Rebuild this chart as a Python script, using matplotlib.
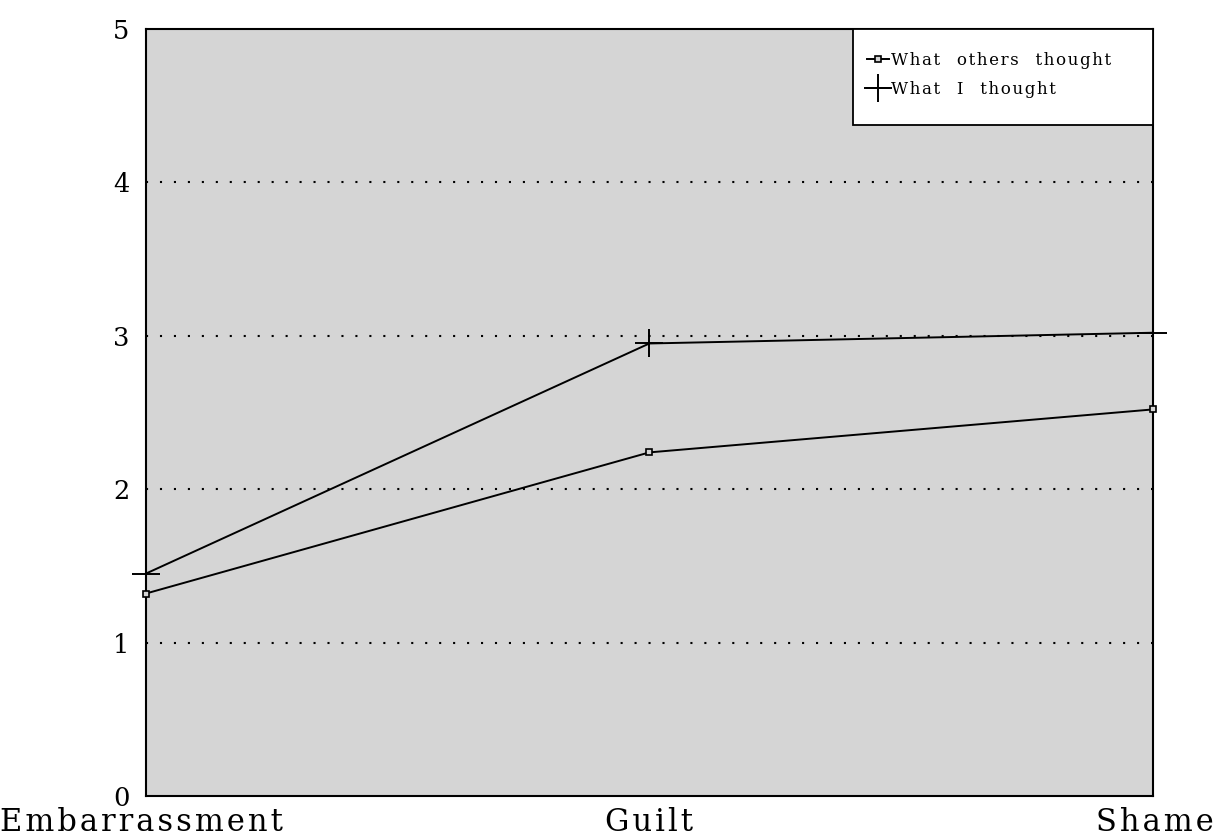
import matplotlib
matplotlib.use("Agg")
import matplotlib.pyplot as plt
from matplotlib.patches import Rectangle

categories = ["Embarrassment", "Guilt", "Shame"]
others_thought = [1.32, 2.24, 2.52]
i_thought = [1.45, 2.95, 3.02]
y_ticks = [0, 1, 2, 3, 4, 5]
series_labels = ["What others thought", "What I thought"]

plt.rcParams['font.family'] = ['DejaVu Serif']


def spaced(s, sep='\u2009', word_sep='\u2003'):
    words = s.split(' ')
    return word_sep.join(sep.join(w) for w in words)


fig = plt.figure(figsize=(12.16, 8.38), dpi=100)
ax = fig.add_axes([0.120, 0.0501, 0.828, 0.9153])
ax.set_facecolor('#d5d5d5')

x = list(range(len(categories)))
l1, = ax.plot(x, others_thought, color='black', lw=1.4, marker='s', markersize=5,
              markerfacecolor='#d5d5d5', markeredgecolor='black', markeredgewidth=1.2,
              clip_on=False, zorder=5)
l2, = ax.plot(x, i_thought, color='black', lw=1.4, marker='+', markersize=20,
              markeredgewidth=1.4, clip_on=False, zorder=5)

ax.set_xlim(0, 2)
ax.set_ylim(0, 5)
ax.set_yticks(y_ticks)
ax.set_yticklabels([str(v) for v in y_ticks], fontsize=18.5)
ax.tick_params(axis='y', length=0, pad=12)
ax.set_xticks([])
for v in [1, 2, 3, 4]:
    ax.axhline(v, color='black', lw=1.5, linestyle=(0, (1, 5.7)), zorder=2)

for s in ax.spines.values():
    s.set_color('black')
    s.set_linewidth(1.5)

# category labels
cat_kw = dict(fontsize=22, va='baseline')
fig.text(0.0, 0.008, spaced(categories[0], sep='\u200a'), ha='left', **cat_kw)
fig.text(0.534, 0.008, spaced(categories[1], sep='\u200a'), ha='center', **cat_kw)
fig.text(0.998, 0.008, spaced(categories[2], sep='\u200a'), ha='right', **cat_kw)

# legend box
ax.add_patch(Rectangle((0.702, 0.875), 0.298, 0.125, transform=ax.transAxes,
                       facecolor='white', edgecolor='black', lw=1.3, zorder=6,
                       clip_on=False))
leg = ax.legend([l1, l2], [spaced(t, sep='\u200a', word_sep='\u2002\u2002') for t in series_labels],
                loc='upper left', bbox_to_anchor=(0.703, 0.988), fontsize=12,
                frameon=False, handlelength=1.3, handletextpad=0.15,
                borderpad=0.3, labelspacing=0.75)
leg.set_zorder(7)

fig.savefig('out.png', dpi=100)
